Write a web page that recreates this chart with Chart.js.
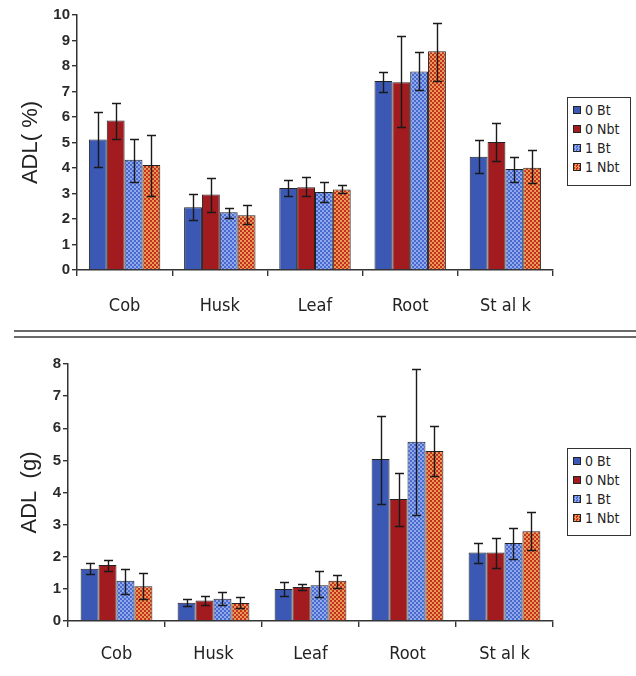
<!DOCTYPE html>
<html>
<head>
<meta charset="utf-8">
<script src="https://cdn.jsdelivr.net/npm/chart.js@4/dist/chart.umd.min.js"></script>
<style>
  html, body { margin: 0; padding: 0; background: #fff; }
  body { width: 636px; height: 676px; position: relative; overflow: hidden; }
  .panel { position: absolute; left: 0; width: 636px; }
  #wrapTop { top: 0; height: 322px; }
  #wrapBot { top: 336px; height: 340px; }
  .sep { position: absolute; left: 14px; width: 622px; height: 2px; background: #6a6a6a; }
  .legend {
    position: absolute; left: 567px; width: 64px; border: 1.5px solid #333;
    background: #fff; font-family: "Liberation Sans Narrow", "DejaVu Sans Condensed", sans-serif;
    font-size: 14px; color: #222; padding: 3px 0 2px 0; box-sizing: border-box;
  }
  .legend .row { height: 19px; line-height: 19px; white-space: pre; position: relative; padding-left: 17px; }
  .legend .sw { position: absolute; left: 5px; top: 5px; width: 8px; height: 8px; border: 1px solid #222; box-sizing: border-box; }
</style>
</head>
<body>
<div class="panel" id="wrapTop"><canvas id="chartTop" width="636" height="322"></canvas></div>
<div class="sep" style="top:330px"></div>
<div class="sep" style="top:336px"></div>
<div class="panel" id="wrapBot"><canvas id="chartBot" width="636" height="340"></canvas></div>
<div class="legend" id="legTop" style="top:97px;height:89px"></div>
<div class="legend" id="legBot" style="top:448px;height:88px"></div>

<script>
// Plant parts on the x axis
const categories = ['Cob', 'Husk', 'Leaf', 'Root', 'St al k'];
const seriesNames = ['0 Bt', '0 Nbt', '1 Bt', '1 Nbt'];

// ADL (%) means and error-bar limits
const pct0Bt   = [5.12, 2.46, 3.22, 7.41, 4.44];
const pct0Nbt  = [5.86, 2.96, 3.25, 7.36, 5.02];
const pct1Bt   = [4.32, 2.26, 3.06, 7.78, 3.96];
const pct1Nbt  = [4.12, 2.15, 3.16, 8.58, 4.01];
const pct0BtHi  = [6.20, 3.00, 3.53, 7.78, 5.08];
const pct0BtLo  = [4.05, 1.95, 2.90, 6.99, 3.80];
const pct0NbtHi = [6.55, 3.62, 3.64, 9.16, 5.76];
const pct0NbtLo = [5.15, 2.26, 2.90, 5.60, 4.27];
const pct1BtHi  = [5.15, 2.45, 3.46, 8.54, 4.44];
const pct1BtLo  = [3.45, 2.05, 2.66, 7.06, 3.45];
const pct1NbtHi = [5.30, 2.56, 3.32, 9.68, 4.72];
const pct1NbtLo = [2.90, 1.80, 3.03, 7.41, 3.40];

// ADL (g) means and error-bar limits
const g0Bt   = [1.63, 0.57, 1.00, 5.04, 2.13];
const g0Nbt  = [1.74, 0.64, 1.06, 3.80, 2.13];
const g1Bt   = [1.25, 0.69, 1.11, 5.58, 2.43];
const g1Nbt  = [1.08, 0.56, 1.25, 5.29, 2.79];
const g0BtHi  = [1.79, 0.67, 1.20, 6.38, 2.43];
const g0BtLo  = [1.45, 0.48, 0.78, 3.64, 1.80];
const g0NbtHi = [1.91, 0.78, 1.14, 4.61, 2.59];
const g0NbtLo = [1.56, 0.51, 0.96, 2.95, 1.65];
const g1BtHi  = [1.62, 0.90, 1.55, 7.85, 2.88];
const g1BtLo  = [0.85, 0.49, 0.75, 3.29, 1.94];
const g1NbtHi = [1.50, 0.75, 1.44, 6.08, 3.39];
const g1NbtLo = [0.67, 0.42, 1.04, 4.51, 2.20];

// Axis ranges / tick labels
const pctTicks = [0, 1, 2, 3, 4, 5, 6, 7, 8, 9, 10];
const gTicks = [0, 1, 2, 3, 4, 5, 6, 7, 8];

const BLUE = '#3a58b4';
const RED = '#a11b1f';

function dotted(base, dot) {
  const c = document.createElement('canvas');
  c.width = 4; c.height = 4;
  const x = c.getContext('2d');
  x.fillStyle = base; x.fillRect(0, 0, 4, 4);
  x.fillStyle = dot;
  x.fillRect(0, 0, 2, 2);
  x.fillRect(2, 2, 2, 2);
  return x.createPattern(c, 'repeat');
}
const BLUE_DOT = dotted('#4a69cf', '#8fa9ea');
const RED_DOT = dotted('#c4301f', '#e99a55');
const fills = [BLUE, RED, BLUE_DOT, RED_DOT];

// Draws whiskers for each bar from the dataset's errHi / errLo arrays
const errorBars = {
  id: 'errorBars',
  afterDatasetsDraw(chart) {
    const { ctx, scales: { y } } = chart;
    ctx.save();
    ctx.strokeStyle = '#1a1a1a';
    ctx.lineWidth = 1.4;
    chart.data.datasets.forEach((ds, di) => {
      const meta = chart.getDatasetMeta(di);
      meta.data.forEach((bar, i) => {
        const yh = Math.round(y.getPixelForValue(ds.errHi[i])) + 0.5;
        const yl = Math.round(y.getPixelForValue(ds.errLo[i])) + 0.5;
        const x = Math.round(bar.x) + 0.5;
        const w = 4.5;
        ctx.beginPath();
        ctx.moveTo(x, yh); ctx.lineTo(x, yl);
        ctx.moveTo(x - w, yh); ctx.lineTo(x + w, yh);
        ctx.moveTo(x - w, yl); ctx.lineTo(x + w, yl);
        ctx.stroke();
      });
    });
    ctx.restore();
  }
};

function makeChart(id, means, his, los, ticks, title, opts) {
  const datasets = means.map((m, k) => ({
    label: seriesNames[k],
    data: m,
    errHi: his[k],
    errLo: los[k],
    backgroundColor: fills[k],
    borderColor: '#222',
    borderWidth: 1,
    barPercentage: 1.0,
    categoryPercentage: opts.catPct
  }));
  return new Chart(document.getElementById(id), {
    type: 'bar',
    data: { labels: categories, datasets },
    options: {
      responsive: false,
      animation: false,
      layout: { padding: { left: 0, right: 636 - opts.right, top: opts.top, bottom: 0 } },
      plugins: { legend: { display: false }, tooltip: { enabled: false } },
      scales: {
        x: {
          grid: { display: true, drawOnChartArea: false, drawTicks: true, tickLength: 6, color: '#333', lineWidth: 1.4, offset: true },
          border: { display: true, color: '#333', width: 1.5 },
          ticks: { color: '#222', padding: opts.xPad, font: { family: '"Liberation Sans Narrow", "DejaVu Sans Condensed", sans-serif', size: 18 } },
          afterFit(s) { s.height = opts.xH; }
        },
        y: {
          min: ticks[0], max: ticks[ticks.length - 1],
          afterBuildTicks(s) { s.ticks = ticks.map(v => ({ value: v })); },
          grid: { display: true, drawOnChartArea: false, drawTicks: true, tickLength: 5, color: '#333', lineWidth: 1.4 },
          border: { display: true, color: '#333', width: 1.5 },
          ticks: { color: '#2a2a2a', padding: 2, font: { family: '"Liberation Sans", Arial, sans-serif', size: 15, weight: 'bold' } },
          title: { display: true, text: title, color: '#222', padding: { top: opts.titlePad, bottom: 0 }, font: { family: '"Liberation Sans", Arial, sans-serif', size: 22 } },
          afterFit(s) { s.width = opts.left; }
        }
      }
    },
    plugins: [errorBars]
  });
}

makeChart('chartTop',
  [pct0Bt, pct0Nbt, pct1Bt, pct1Nbt],
  [pct0BtHi, pct0NbtHi, pct1BtHi, pct1NbtHi],
  [pct0BtLo, pct0NbtLo, pct1BtLo, pct1NbtLo],
  pctTicks, 'ADL( %)',
  { left: 77, right: 553, top: 15, xH: 52, xPad: 20, catPct: 0.75, titlePad: 18 });

makeChart('chartBot',
  [g0Bt, g0Nbt, g1Bt, g1Nbt],
  [g0BtHi, g0NbtHi, g1BtHi, g1NbtHi],
  [g0BtLo, g0NbtLo, g1BtLo, g1NbtLo],
  gTicks, 'ADL  (g)',
  { left: 68, right: 553, top: 28, xH: 55, xPad: 17, catPct: 0.74, titlePad: 17 });

// Legend boxes
const swatchCss = [BLUE, RED,
  'repeating-conic-gradient(#8fa9ea 0 25%, #4a69cf 0 50%) 0 0/3px 3px',
  'repeating-conic-gradient(#e99a55 0 25%, #c4301f 0 50%) 0 0/3px 3px'];
['legTop', 'legBot'].forEach(id => {
  const box = document.getElementById(id);
  seriesNames.forEach((name, k) => {
    const row = document.createElement('div');
    row.className = 'row';
    const sw = document.createElement('span');
    sw.className = 'sw';
    sw.style.background = swatchCss[k];
    row.appendChild(sw);
    row.appendChild(document.createTextNode(name));
    box.appendChild(row);
  });
});
</script>
</body>
</html>
